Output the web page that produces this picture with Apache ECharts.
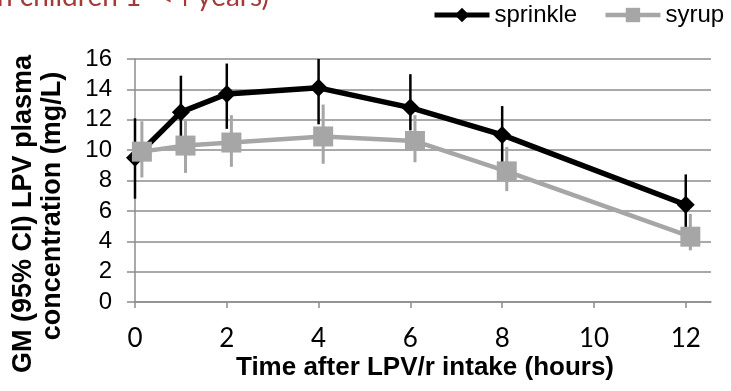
<!DOCTYPE html>
<html><head><meta charset="utf-8">
<script src="https://cdn.jsdelivr.net/npm/echarts@6/dist/echarts.min.js"></script>
<style>html,body{margin:0;padding:0;background:#fff}#c{width:731px;height:391px}</style>
</head><body><div id="c"></div>
<script>
var xTicks = [0, 2, 4, 6, 8, 10, 12];
var yTicks = [0, 2, 4, 6, 8, 10, 12, 14, 16];
var sprinkleTime = [0, 1, 2, 4, 6, 8, 12];
var sprinkleGM = [9.5, 12.5, 13.7, 14.1, 12.8, 11.0, 6.4];
var sprinkleLow = [6.8, 10.2, 11.4, 11.7, 11.3, 9.2, 4.9];
var sprinkleHigh = [12.1, 14.9, 15.7, 16.0, 15.0, 12.9, 8.4];
var syrupTime = [0.15, 1.1, 2.1, 4.1, 6.1, 8.1, 12.1];
var syrupGM = [9.9, 10.3, 10.5, 10.9, 10.6, 8.6, 4.3];
var syrupLow = [8.2, 8.5, 8.9, 9.1, 9.2, 7.3, 3.4];
var syrupHigh = [11.9, 12.0, 12.3, 13.0, 12.3, 10.2, 5.8];

function pts(t, v) { return t.map(function (x, i) { return [x, v[i]]; }); }
function bars(t, lo, hi) { return t.map(function (x, i) { return [x, lo[i], hi[i]]; }); }
function errRender(color, w) {
  return function (params, api) {
    var a = api.coord([api.value(0), api.value(1)]);
    var b = api.coord([api.value(0), api.value(2)]);
    return { type: 'line', shape: { x1: a[0], y1: a[1], x2: b[0], y2: b[1] },
      style: { stroke: color, lineWidth: w } };
  };
}
var BLACK = '#000000', GRAY = '#a6a6a6', GRID = '#8c8c8c';
var chart = echarts.init(document.getElementById('c'));
chart.setOption({
  animation: false,
  grid: { left: 135, right: 20, top: 59, bottom: 89, containLabel: false },
  legend: {
    left: 432, top: 3, padding: 0, itemWidth: 55, itemHeight: 18, itemGap: 26,
    textStyle: { fontFamily: 'Liberation Sans, Arial', fontSize: 24, color: '#000' },
    data: [
      { name: 'sprinkle', lineStyle: { width: 5, color: BLACK }, itemStyle: { color: BLACK } },
      { name: 'syrup', lineStyle: { width: 4.5, color: GRAY }, itemStyle: { color: GRAY } }
    ]
  },
  xAxis: {
    type: 'value', min: 0, max: 12.55, interval: 2,
    axisLine: { show: true, lineStyle: { color: GRID, width: 1.5 } },
    axisTick: { show: true, length: 6, customValues: xTicks, lineStyle: { color: GRID, width: 1.5 } },
    axisLabel: { customValues: xTicks, margin: 24, fontFamily: 'Lato', fontSize: 26, color: '#000' },
    splitLine: { show: false }
  },
  yAxis: {
    type: 'value', min: 0, max: 16, interval: 2,
    axisLine: { show: true, lineStyle: { color: GRID, width: 1.5 } },
    axisTick: { show: true, length: 8, lineStyle: { color: GRID, width: 1.5 } },
    axisLabel: { margin: 23, fontFamily: 'Liberation Sans, Arial', fontSize: 24, color: '#000' },
    splitLine: { show: true, lineStyle: { color: GRID, width: 1.5 } }
  },
  graphic: [
    { type: 'text', left: -3, top: -17, style: { text: 'n children 1\u2013<4 years)', fontFamily: 'Lato', fontSize: 28, fill: '#a23a3c' } },
    { type: 'text', x: 24, y: 214, rotation: Math.PI / 2, style: { text: 'GM (95% CI) LPV plasma', fontFamily: 'Liberation Sans, Arial', fontWeight: 'bold', fontSize: 27, fill: '#000', align: 'center', verticalAlign: 'middle' } },
    { type: 'text', x: 53, y: 206, rotation: Math.PI / 2, style: { text: 'concentration (mg/L)', fontFamily: 'Liberation Sans, Arial', fontWeight: 'bold', fontSize: 27, fill: '#000', align: 'center', verticalAlign: 'middle' } },
    { type: 'text', x: 425, y: 368, style: { text: 'Time after LPV/r intake (hours)', fontFamily: 'Liberation Sans, Arial', fontWeight: 'bold', fontSize: 26, fill: '#000', align: 'center', verticalAlign: 'middle' } }
  ],
  series: [
    { name: 'sprinkle-err', type: 'custom', renderItem: errRender(BLACK, 2.5), data: bars(sprinkleTime, sprinkleLow, sprinkleHigh), z: 2, silent: true },
    { name: 'sprinkle', type: 'line', data: pts(sprinkleTime, sprinkleGM), z: 3,
      symbol: 'diamond', symbolSize: 18, itemStyle: { color: BLACK }, lineStyle: { color: BLACK, width: 5.5 } },
    { name: 'syrup-err', type: 'custom', renderItem: errRender(GRAY, 3), data: bars(syrupTime, syrupLow, syrupHigh), z: 4, silent: true },
    { name: 'syrup', type: 'line', data: pts(syrupTime, syrupGM), z: 5,
      symbol: 'rect', symbolSize: 20, itemStyle: { color: GRAY }, lineStyle: { color: GRAY, width: 4.5 } }
  ]
});
</script></body></html>
